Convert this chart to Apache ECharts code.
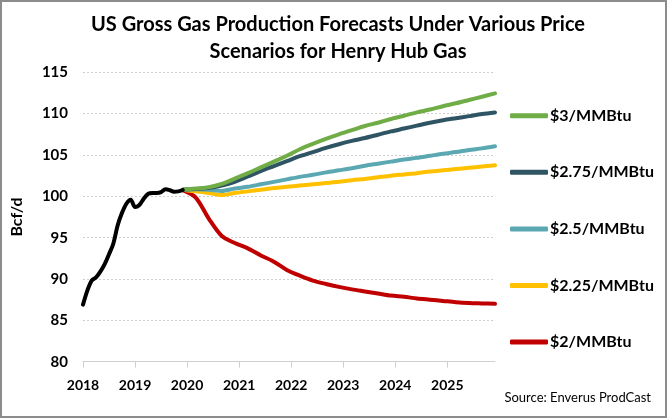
<!DOCTYPE html>
<html>
<head>
<meta charset="utf-8">
<script src="https://cdn.jsdelivr.net/npm/echarts@6/dist/echarts.min.js"></script>
<style>
  html, body { margin: 0; padding: 0; background: #fff; }
  #chart { width: 669px; height: 419px; }
</style>
</head>
<body>
<div id="chart"></div>
<script>
// ---- Data ----
const titleLines = ['US Gross Gas Production Forecasts Under Various Price', 'Scenarios for Henry Hub Gas'];
const yAxisName = 'Bcf/d';
const sourceText = 'Source: Enverus ProdCast';
const yearTicks = [2018, 2019, 2020, 2021, 2022, 2023, 2024, 2025];

// Historical production, monthly from Jan 2018
const historyStartYear = 2018;
const historyValues = [86.9, 88.6, 89.8, 90.2, 90.9, 91.8, 93.0, 94.3, 96.5, 98.0, 99.1, 99.6,
                       98.7, 98.95, 99.7, 100.3, 100.4, 100.4, 100.5, 100.85, 100.75, 100.55, 100.6, 100.75];

// Forecasts: quarterly points starting Dec 2019 (month offset 23 from Jan 2018)
const forecastStartMonth = 23;
const forecastStepMonths = 3;
const scenarioNames = ['$3/MMBtu', '$2.75/MMBtu', '$2.5/MMBtu', '$2.25/MMBtu', '$2/MMBtu'];
const price3_00 = [100.8, 100.95, 101.1, 101.5, 102.15, 102.8, 103.5, 104.2, 104.9, 105.7, 106.35, 106.95, 107.5,
                   108.0, 108.5, 108.9, 109.35, 109.75, 110.15, 110.5, 110.9, 111.25, 111.65, 112.05, 112.45];
const price2_75 = [100.8, 100.9, 101.0, 101.3, 101.75, 102.4, 103.05, 103.65, 104.25, 104.85, 105.35, 105.85, 106.3,
                   106.7, 107.05, 107.45, 107.85, 108.2, 108.55, 108.9, 109.2, 109.45, 109.7, 109.95, 110.15];
const price2_50 = [100.8, 100.85, 100.8, 100.65, 100.95, 101.15, 101.45, 101.75, 102.05, 102.35, 102.6, 102.9, 103.15,
                   103.4, 103.7, 103.95, 104.2, 104.45, 104.65, 104.9, 105.15, 105.35, 105.6, 105.8, 106.05];
const price2_25 = [100.8, 100.6, 100.4, 100.15, 100.4, 100.6, 100.8, 101.0, 101.15, 101.3, 101.45, 101.6, 101.75,
                   101.95, 102.1, 102.3, 102.5, 102.65, 102.8, 103.0, 103.15, 103.3, 103.45, 103.6, 103.75];
const price2_00 = [100.75, 99.85, 97.3, 95.2, 94.35, 93.7, 92.85, 92.1, 91.1, 90.4, 89.8, 89.4, 89.05,
                   88.75, 88.5, 88.25, 88.0, 87.85, 87.65, 87.5, 87.35, 87.2, 87.1, 87.05, 87.0];
const scenarioValues = [price3_00, price2_75, price2_50, price2_25, price2_00];
const scenarioColors = ['#70AD47', '#2F5464', '#5BA8B2', '#FFC000', '#C00000'];

// ---- Build ----
const FONT = 'Lato';
const historyData = historyValues.map((v, i) => [historyStartYear + i / 12, v]);
const forecastSeries = scenarioNames.map((name, s) => ({
  name: name,
  type: 'line',
  showSymbol: false,
  symbol: 'none',
  smooth: 0.3,
  z: 10 - s,
  lineStyle: { width: 4, color: scenarioColors[s], cap: 'round', join: 'round' },
  itemStyle: { color: scenarioColors[s] },
  data: scenarioValues[s].map((v, k) => [historyStartYear + (forecastStartMonth + k * forecastStepMonths) / 12, v])
}));

const chart = echarts.init(document.getElementById('chart'), null, { renderer: 'canvas' });
chart.setOption({
  animation: false,
  backgroundColor: '#fff',
  grid: { left: 83, right: 174, top: 72.3, bottom: 57.3, containLabel: false },
  xAxis: {
    type: 'value',
    min: 2018,
    max: 2018 + 95 / 12,
    axisLine: { show: true, lineStyle: { color: '#d0d0d0', width: 1 } },
    axisTick: { show: true, length: 6, customValues: yearTicks, lineStyle: { color: '#d0d0d0' } },
    axisLabel: { customValues: yearTicks, margin: 17, color: '#000', fontFamily: FONT, fontWeight: 'bold', fontSize: 14,
                 formatter: v => String(Math.round(v)) },
    splitLine: { show: false }
  },
  yAxis: {
    type: 'value',
    min: 80, max: 115, interval: 5,
    name: yAxisName,
    nameLocation: 'middle',
    nameRotate: 90,
    nameGap: 58,
    nameTextStyle: { color: '#000', fontFamily: FONT, fontWeight: 'bold', fontSize: 16 },
    axisLine: { show: false },
    axisTick: { show: false },
    axisLabel: { margin: 15, color: '#000', fontFamily: FONT, fontWeight: 'bold', fontSize: 15 },
    splitLine: { show: true, lineStyle: { color: '#cfcfcf', width: 1, type: [2, 2] } }
  },
  legend: {
    data: scenarioNames,
    orient: 'vertical',
    left: 505,
    top: 102.7,
    icon: 'roundRect',
    itemWidth: 38,
    itemHeight: 5,
    itemGap: 40.6,
    textStyle: { color: '#000', fontFamily: FONT, fontWeight: 'bold', fontSize: 16, lineHeight: 16, padding: [0, 0, 0, -3] }
  },
  graphic: [
    { type: 'rect', silent: true, shape: { x: 1, y: 1, width: 665, height: 416 },
      style: { fill: 'none', stroke: '#8c8c8c', lineWidth: 2 } },
    { type: 'text', silent: true, x: 338, y: 25,
      style: { text: titleLines[0], textAlign: 'center', textVerticalAlign: 'middle', fill: '#000',
               font: 'bold 20px ' + FONT } },
    { type: 'text', silent: true, x: 338, y: 52,
      style: { text: titleLines[1], textAlign: 'center', textVerticalAlign: 'middle', fill: '#000',
               font: 'bold 20px ' + FONT } },
    { type: 'text', silent: true, x: 651, y: 398,
      style: { text: sourceText, textAlign: 'right', textVerticalAlign: 'middle', fill: '#000',
               font: '13px ' + FONT } }
  ],
  series: [
    {
      name: 'History',
      type: 'line',
      showSymbol: false,
      symbol: 'none',
      smooth: 0.3,
      z: 11,
      lineStyle: { width: 4, color: '#000', cap: 'round', join: 'round' },
      data: historyData
    }
  ].concat(forecastSeries)
});
</script>
</body>
</html>
